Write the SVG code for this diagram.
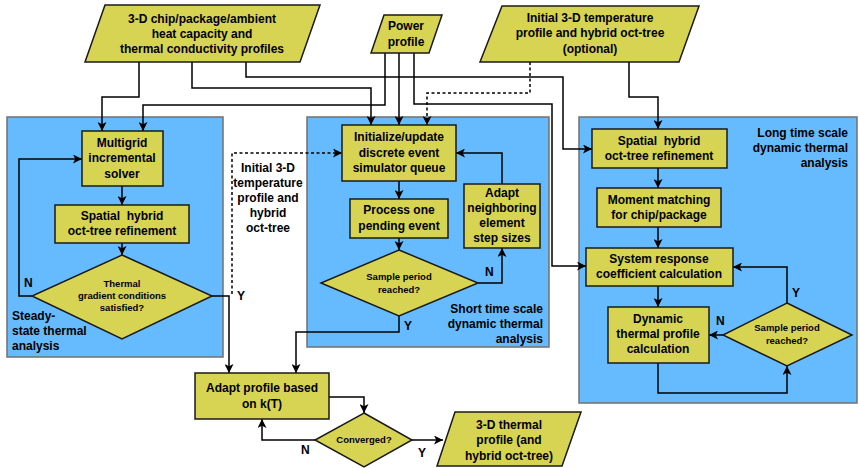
<svg xmlns="http://www.w3.org/2000/svg" width="859" height="468" viewBox="0 0 859 468">
<defs>
<marker id="ah" viewBox="0 0 10 10" refX="10" refY="5" markerWidth="9" markerHeight="9" orient="auto" markerUnits="userSpaceOnUse">
<path d="M0,0 L10,5 L0,10 L2.5,5 z" fill="#000"/>
</marker>
<style>
.cont{fill:#66BBFF;stroke:#707070;stroke-width:1.5}
.node{fill:#D6D452;stroke:#1a1a1a;stroke-width:1.5}
.t{font-family:"Liberation Sans",Arial,sans-serif;font-weight:bold;font-size:12px;fill:#000;text-anchor:middle}
.s{font-family:"Liberation Sans",Arial,sans-serif;font-weight:bold;font-size:9.5px;fill:#000;text-anchor:middle}
.l{font-family:"Liberation Sans",Arial,sans-serif;font-weight:bold;font-size:12px;fill:#000}
.r{text-anchor:end}
.c{fill:none;stroke:#000;stroke-width:1.5}
.a{marker-end:url(#ah)}
.d{stroke-dasharray:3,2.5}
</style>
</defs>

<g id="containers">
<rect id="steady" class="cont" x="7" y="117" width="216" height="240"/>
<rect id="short" class="cont" x="307" y="117" width="242" height="230"/>
<rect id="long" class="cont" x="579" y="117" width="278" height="286"/>
</g>

<g id="labels">
<text class="l" x="12" y="320">Steady-</text>
<text class="l" x="12" y="335">state thermal</text>
<text class="l" x="12" y="350">analysis</text>
<text class="l r" x="543" y="313">Short time scale</text>
<text class="l r" x="543" y="328">dynamic thermal</text>
<text class="l r" x="543" y="343">analysis</text>
<text class="l r" x="848" y="137">Long time scale</text>
<text class="l r" x="848" y="152">dynamic thermal</text>
<text class="l r" x="848" y="167">analysis</text>
<text class="t" x="268" y="172">Initial 3-D</text>
<text class="t" x="268" y="187">temperature</text>
<text class="t" x="268" y="202">profile and</text>
<text class="t" x="268" y="217">hybrid</text>
<text class="t" x="268" y="232">oct-tree</text>
<text class="l" x="24" y="287">N</text>
<text class="l" x="237" y="300">Y</text>
<text class="l" x="485" y="276">N</text>
<text class="l" x="404" y="330">Y</text>
<text class="l" x="792" y="297">Y</text>
<text class="l" x="716" y="325">N</text>
<text class="l" x="301" y="454">N</text>
<text class="l" x="418" y="457">Y</text>
</g>

<g id="connectors">
<path class="c a" d="M139,62 V97 H102 V131"/>
<path class="c a" d="M385,53 V105 H143 V131"/>
<path class="c a" d="M192,62 V88 H371 V125"/>
<path class="c a" d="M399,53 V125"/>
<path class="c a d" d="M530,62 V93 H427 V125"/>
<path class="c a" d="M246,62 V77 H563 V149 H592"/>
<path class="c a" d="M414,53 V104 H552 V266 H586"/>
<path class="c a" d="M629,62 V97 H658 V129"/>
<path class="c a" d="M122,186 V205"/>
<path class="c a" d="M122,243 V255"/>
<path class="c a" d="M32,296 H19 V159 H82"/>
<path class="c a" d="M212,296 H229 V373"/>
<path class="c a d" d="M232,294 V153 H342"/>
<path class="c a" d="M399,181 V199"/>
<path class="c a" d="M399,238 V250"/>
<path class="c a" d="M478,283 H502 V248"/>
<path class="c a" d="M502,184 V153 H456"/>
<path class="c a" d="M399,316 V332 H296 V373"/>
<path class="c a" d="M658,168 V188"/>
<path class="c a" d="M658,227 V248"/>
<path class="c a" d="M658,286 V307"/>
<path class="c a" d="M787,303 V267 H733"/>
<path class="c a" d="M723,335 H709"/>
<path class="c a" d="M658,363 V393 H787 V366"/>
<path class="c a" d="M329,397 H364 V413"/>
<path class="c a" d="M315,440 H262 V419"/>
<path class="c a" d="M412,440 H443"/>
</g>

<g id="in_profiles">
<polygon class="node" points="105,5 320,5 300,62 85,62"/>
<text class="t" x="202" y="23">3-D chip/package/ambient</text>
<text class="t" x="202" y="38">heat capacity and</text>
<text class="t" x="202" y="53">thermal conductivity profiles</text>
</g>
<g id="in_power">
<polygon class="node" points="384,15 442,15 429,53 371,53"/>
<text class="t" x="406" y="30">Power</text>
<text class="t" x="406" y="46">profile</text>
</g>
<g id="in_initial">
<polygon class="node" points="502,6 699,6 679,62 480,62"/>
<text class="t" x="590" y="22">Initial 3-D temperature</text>
<text class="t" x="590" y="37">profile and hybrid oct-tree</text>
<text class="t" x="590" y="53">(optional)</text>
</g>

<g id="multigrid">
<rect class="node" x="82" y="131" width="81" height="55"/>
<text class="t" x="122" y="147">Multigrid</text>
<text class="t" x="122" y="162">incremental</text>
<text class="t" x="122" y="178">solver</text>
</g>
<g id="ss_spatial">
<rect class="node" x="55" y="205" width="134" height="38"/>
<text class="t" x="122" y="220">Spatial&#160; hybrid</text>
<text class="t" x="122" y="235">oct-tree refinement</text>
</g>
<g id="ss_decision">
<polygon class="node" points="122,255 212,296 122,339 32,296"/>
<text class="s" x="122" y="287">Thermal</text>
<text class="s" x="122" y="299">gradient conditions</text>
<text class="s" x="122" y="311">satisfied?</text>
</g>

<g id="initialize">
<rect class="node" x="342" y="125" width="114" height="56"/>
<text class="t" x="399" y="141">Initialize/update</text>
<text class="t" x="399" y="157">discrete event</text>
<text class="t" x="399" y="172">simulator queue</text>
</g>
<g id="process">
<rect class="node" x="350" y="199" width="98" height="39"/>
<text class="t" x="399" y="214">Process one</text>
<text class="t" x="399" y="230">pending event</text>
</g>
<g id="adapt_step">
<rect class="node" x="464" y="184" width="76" height="64"/>
<text class="t" x="502" y="197">Adapt</text>
<text class="t" x="502" y="212">neighboring</text>
<text class="t" x="502" y="227">element</text>
<text class="t" x="502" y="242">step sizes</text>
</g>
<g id="st_decision">
<polygon class="node" points="399,250 478,283 399,316 321,283"/>
<text class="s" x="399" y="280">Sample period</text>
<text class="s" x="399" y="293">reached?</text>
</g>

<g id="lt_spatial">
<rect class="node" x="592" y="129" width="135" height="39"/>
<text class="t" x="659" y="145">Spatial&#160; hybrid</text>
<text class="t" x="659" y="160">oct-tree refinement</text>
</g>
<g id="moment">
<rect class="node" x="597" y="188" width="124" height="39"/>
<text class="t" x="659" y="204">Moment matching</text>
<text class="t" x="659" y="219">for chip/package</text>
</g>
<g id="system">
<rect class="node" x="586" y="248" width="147" height="38"/>
<text class="t" x="659" y="263">System response</text>
<text class="t" x="659" y="278">coefficient calculation</text>
</g>
<g id="dynamic">
<rect class="node" x="608" y="307" width="101" height="56"/>
<text class="t" x="658" y="323">Dynamic</text>
<text class="t" x="658" y="338">thermal profile</text>
<text class="t" x="658" y="353">calculation</text>
</g>
<g id="lt_decision">
<polygon class="node" points="787,303 852,335 787,366 723,335"/>
<text class="s" x="787" y="331">Sample period</text>
<text class="s" x="787" y="344">reached?</text>
</g>

<g id="adapt_profile">
<rect class="node" x="195" y="373" width="134" height="46"/>
<text class="t" x="262" y="392">Adapt profile based</text>
<text class="t" x="262" y="408">on k(T)</text>
</g>
<g id="converged">
<polygon class="node" points="364,413 412,440 364,467 315,440"/>
<text class="s" x="364" y="443">Converged?</text>
</g>
<g id="output">
<polygon class="node" points="455,412 581,412 562,466 437,466"/>
<text class="t" x="509" y="429">3-D thermal</text>
<text class="t" x="509" y="444">profile (and</text>
<text class="t" x="509" y="460">hybrid oct-tree)</text>
</g>
</svg>
